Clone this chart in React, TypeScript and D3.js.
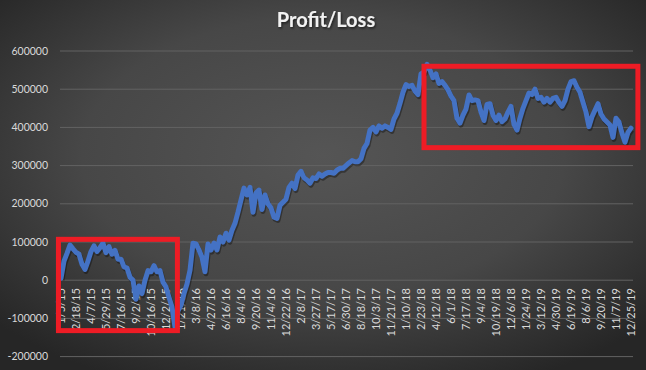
import React from "react";
import * as d3 from "d3";

const title = "Profit/Loss";

const dateLabels = [
  "1/5/15", "2/18/15", "4/7/15", "5/29/15", "7/16/15", "9/2/15", "10/16/15", "12/2/15",
  "1/21/16", "3/8/16", "4/27/16", "6/16/16", "8/4/16", "9/20/16", "11/4/16", "12/22/16",
  "2/8/17", "3/27/17", "5/17/17", "6/30/17", "8/18/17", "10/3/17", "11/21/17",
  "1/10/18", "2/23/18", "4/12/18", "6/1/18", "7/17/18", "9/4/18", "10/19/18", "12/6/18",
  "1/24/19", "3/12/19", "4/30/19", "6/19/19", "8/6/19", "9/20/19", "11/7/19", "12/25/19",
];

const pointsPerLabel = 5;

const profit = [
  5000, 50000, 70000, 92000, 82000, 73000, 68000, 42000, 28000, 50000,
  75000, 90000, 75000, 85000, 97000, 72000, 88000, 68000, 78000, 55000,
  55000, 35000, 32000, 8000, 0, -50000, -15000, -35000, 0, 25000,
  22000, 38000, 22000, 25000, -5000, -18000, -45000, -70000, -123000, -80000,
  -65000, -35000, -10000, 26000, 97000, 95000, 79000, 60000, 22000, 95000,
  79000, 97000, 79000, 113000, 100000, 123000, 105000, 131000, 149000, 178000,
  210000, 241000, 223000, 243000, 178000, 228000, 236000, 185000, 223000, 200000,
  189000, 165000, 162000, 196000, 204000, 212000, 243000, 254000, 240000, 275000,
  285000, 268000, 262000, 254000, 268000, 266000, 278000, 272000, 278000, 282000,
  282000, 280000, 288000, 293000, 293000, 300000, 307000, 313000, 310000, 310000,
  318000, 345000, 358000, 393000, 400000, 388000, 404000, 398000, 404000, 400000,
  395000, 422000, 437000, 463000, 492000, 512000, 507000, 510000, 495000, 486000,
  540000, 545000, 565000, 550000, 530000, 540000, 515000, 520000, 510000, 498000,
  482000, 470000, 424000, 411000, 432000, 448000, 485000, 470000, 472000, 470000,
  440000, 418000, 460000, 462000, 432000, 418000, 432000, 415000, 422000, 440000,
  455000, 408000, 393000, 424000, 450000, 470000, 490000, 486000, 500000, 476000,
  479000, 466000, 476000, 466000, 476000, 479000, 465000, 455000, 470000, 500000,
  520000, 522000, 505000, 492000, 466000, 440000, 402000, 428000, 445000, 462000,
  435000, 422000, 414000, 406000, 374000, 424000, 414000, 385000, 361000, 387000,
  398000,
];

const yTicks = [-200000, -100000, 0, 100000, 200000, 300000, 400000, 500000, 600000];

// highlight boxes in data coordinates: index range and value range
const boxStartIdx = [-0.85, 121];
const boxEndIdx = [38.8, 192.3];
const boxLowVal = [-132000, 347000];
const boxHighVal = [107000, 560000];

const W = 646;
const H = 370;
const FONT = "Lato, 'Open Sans', sans-serif";

export default function App() {
  const x = d3.scaleLinear().domain([0, profit.length - 1]).range([61, 631]);
  const y = d3.scaleLinear().domain([-200000, 600000]).range([356.6, 51]);
  const line = d3
    .line<number>()
    .x((_, i) => x(i))
    .y((d) => y(d))
    .curve(d3.curveLinear);
  const path = line(profit) || "";

  return (
    <svg
      width={W}
      height={H}
      style={{ position: "absolute", left: 0, top: 0, display: "block" }}
    >
      <defs>
        <radialGradient id="bg" cx="50%" cy="42%" r="68%">
          <stop offset="0%" stopColor="#555555" />
          <stop offset="55%" stopColor="#474747" />
          <stop offset="100%" stopColor="#262626" />
        </radialGradient>
        <filter id="tshadow" x="-10%" y="-30%" width="120%" height="160%">
          <feDropShadow dx="1" dy="1.5" stdDeviation="1" floodColor="#000" floodOpacity="0.6" />
        </filter>
      </defs>
      <rect x={0} y={0} width={W} height={H} fill="url(#bg)" />

      {yTicks.map((t) => (
        <g key={t}>
          <line x1={60} x2={633} y1={y(t)} y2={y(t)} stroke="#636363" strokeWidth={1} />
          <text
            x={48}
            y={y(t)}
            dy="0.35em"
            textAnchor="end"
            fill="#d9d9d9"
            fontFamily={FONT}
            fontSize={10.5}
          >
            {t}
          </text>
        </g>
      ))}

      <text
        x={326}
        y={27}
        textAnchor="middle"
        fill="#f2f2f2"
        fontFamily={FONT}
        fontWeight={700}
        fontSize={20}
        filter="url(#tshadow)"
      >
        {title}
      </text>

      {dateLabels.map((lab, k) => {
        const px = x(k * pointsPerLabel);
        return (
          <text
            key={lab}
            transform={`translate(${px},${y(0) + 8}) rotate(-90)`}
            dy="0.35em"
            textAnchor="end"
            fill="#d9d9d9"
            fontFamily={FONT}
            fontSize={11}
          >
            {lab}
          </text>
        );
      })}

      <path
        d={path}
        fill="none"
        stroke="#000"
        strokeOpacity={0.35}
        strokeWidth={5}
        transform="translate(1,2)"
        strokeLinejoin="round"
      />
      <path
        d={path}
        fill="none"
        stroke="#4472C4"
        strokeWidth={5}
        strokeLinejoin="round"
        strokeLinecap="round"
      />

      {boxStartIdx.map((s, b) => (
        <rect
          key={b}
          x={x(s)}
          y={y(boxHighVal[b])}
          width={x(boxEndIdx[b]) - x(s)}
          height={y(boxLowVal[b]) - y(boxHighVal[b])}
          fill="none"
          stroke="#EE1C25"
          strokeWidth={5}
        />
      ))}
    </svg>
  );
}
